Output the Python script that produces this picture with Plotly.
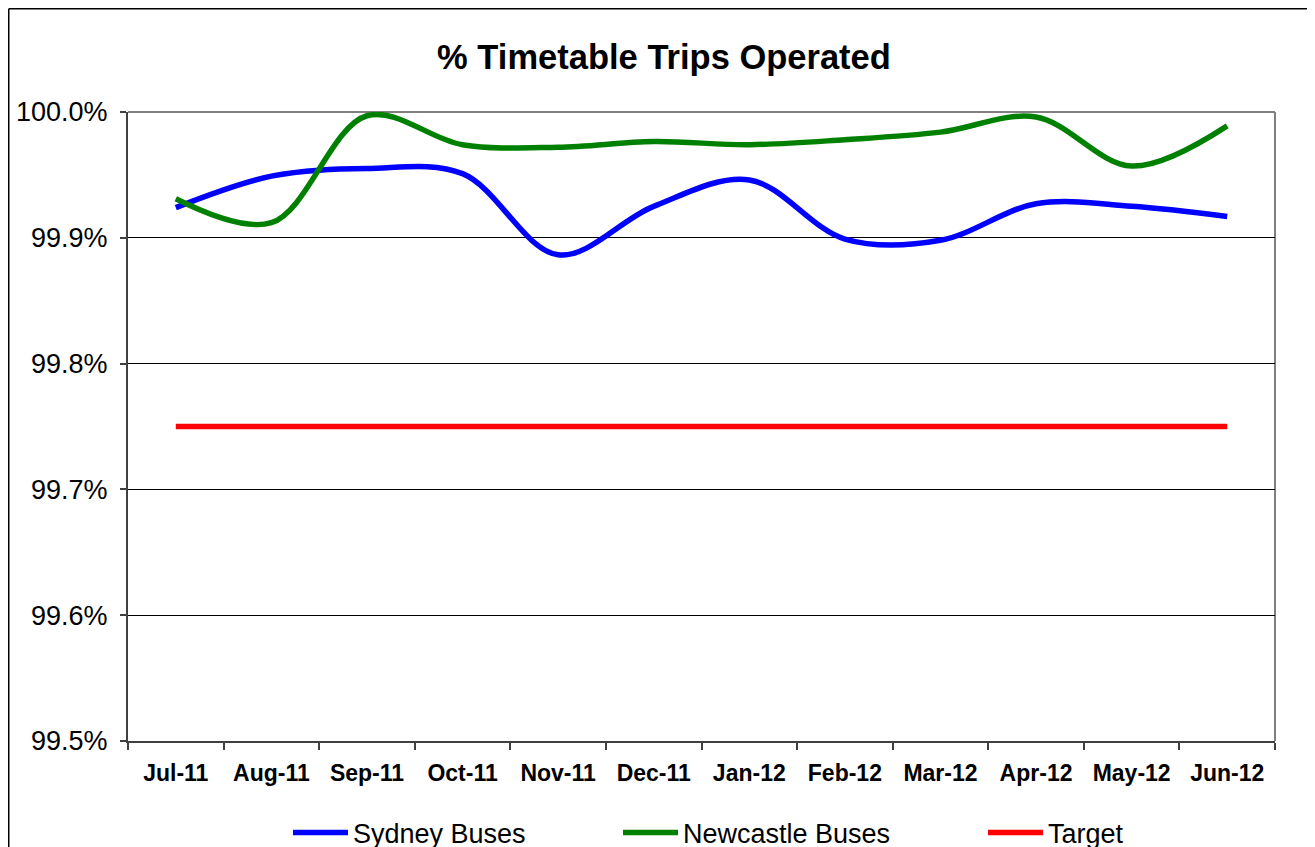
import plotly.graph_objects as go

months = ["Jul-11", "Aug-11", "Sep-11", "Oct-11", "Nov-11", "Dec-11",
          "Jan-12", "Feb-12", "Mar-12", "Apr-12", "May-12", "Jun-12"]
sydney = [99.924, 99.949, 99.955, 99.951, 99.8865, 99.925,
          99.946, 99.899, 99.898, 99.927, 99.925, 99.917]
newcastle = [99.931, 99.912, 99.997, 99.974, 99.972, 99.9765,
             99.974, 99.978, 99.984, 99.996, 99.957, 99.989]
target = [99.75, 99.75, 99.75, 99.75, 99.75, 99.75,
          99.75, 99.75, 99.75, 99.75, 99.75, 99.75]
y_ticks = [99.5, 99.6, 99.7, 99.8, 99.9, 100.0]
y_labels = ["99.5%", "99.6%", "99.7%", "99.8%", "99.9%", "100.0%"]

FONT = "Arial, 'Liberation Sans', sans-serif"
OFF = 8  # page body margin
W, H = 1315 - OFF, 847 - OFF
L, R, T, B = 128 - OFF, 1275 - OFF, 112 - OFF, 741 - OFF

fig = go.Figure()
fig.add_trace(go.Scatter(x=months, y=sydney, name="Sydney Buses", mode="lines",
                         line=dict(color="#0000FF", width=5.5, shape="spline", smoothing=1.0),
                         legend="legend", showlegend=True))
fig.add_trace(go.Scatter(x=months, y=newcastle, name="Newcastle Buses", mode="lines",
                         line=dict(color="#008000", width=5.5, shape="spline", smoothing=1.0),
                         legend="legend2", showlegend=True))
fig.add_trace(go.Scatter(x=months, y=target, name="Target", mode="lines",
                         line=dict(color="#FF0000", width=5.5),
                         legend="legend3", showlegend=True))

def px_x(px):
    return (px - L) / (R - L)

def px_y(py):
    return (B - py) / (B - T)

leg_common = dict(orientation="h", yanchor="middle", xanchor="left",
                  xref="container", yref="container",
                  y=1 - (833 - OFF) / H, font=dict(family=FONT, size=27, color="#000000"),
                  bgcolor="rgba(0,0,0,0)", itemwidth=55, visible=True)

fig.update_layout(
    width=W, height=H, showlegend=True,
    margin=dict(l=L, r=W - R, t=T, b=H - B, pad=0, autoexpand=False),
    paper_bgcolor="white", plot_bgcolor="white",
    title=dict(text="<b>% Timetable Trips Operated</b>", x=(664 - OFF) / W, xanchor="center",
               xref="container", yref="container",
               y=1 - (57 - OFF) / H, yanchor="middle",
               font=dict(family=FONT, size=34.5, color="#000000")),
    xaxis=dict(type="category", range=[-0.5, 11.5], showgrid=False, automargin=False,
               showline=True, linecolor="#404040", linewidth=2,
               ticks="outside", ticklen=7, tickcolor="#404040", tickwidth=1.5,
               tickson="boundaries", ticklabelstandoff=10,
               tickfont=dict(family=FONT, size=23, color="#000000", weight="bold")),
    yaxis=dict(range=[99.5, 100.0], tickvals=y_ticks, ticktext=y_labels, automargin=False,
               showgrid=True, gridcolor="#000000", gridwidth=1,
               showline=True, linecolor="#404040", linewidth=2,
               ticks="outside", ticklen=6, tickcolor="#404040", tickwidth=1.5,
               ticklabelstandoff=7, zeroline=False,
               tickfont=dict(family=FONT, size=27, color="#000000")),
    legend=dict(leg_common, x=(295 - OFF - 7) / W),
    legend2=dict(leg_common, x=(625 - OFF - 7) / W),
    legend3=dict(leg_common, x=(990 - OFF - 7) / W),
    shapes=[
        dict(type="line", xref="paper", yref="paper", x0=0, x1=1, y0=1, y1=1,
             line=dict(color="#808080", width=2), layer="between"),
        dict(type="line", xref="paper", yref="paper", x0=1, x1=1, y0=0, y1=1,
             line=dict(color="#808080", width=2), layer="between"),
        dict(type="line", xref="paper", yref="paper", x0=px_x(0.75), x1=px_x(0.75),
             y0=px_y(0.75), y1=px_y(H + 20), line=dict(color="#000000", width=1.5)),
        dict(type="line", xref="paper", yref="paper", x0=px_x(0.75), x1=px_x(W + 20),
             y0=px_y(0.75), y1=px_y(0.75), line=dict(color="#000000", width=1.5)),
    ],
)

fig.write_html("out.html")
